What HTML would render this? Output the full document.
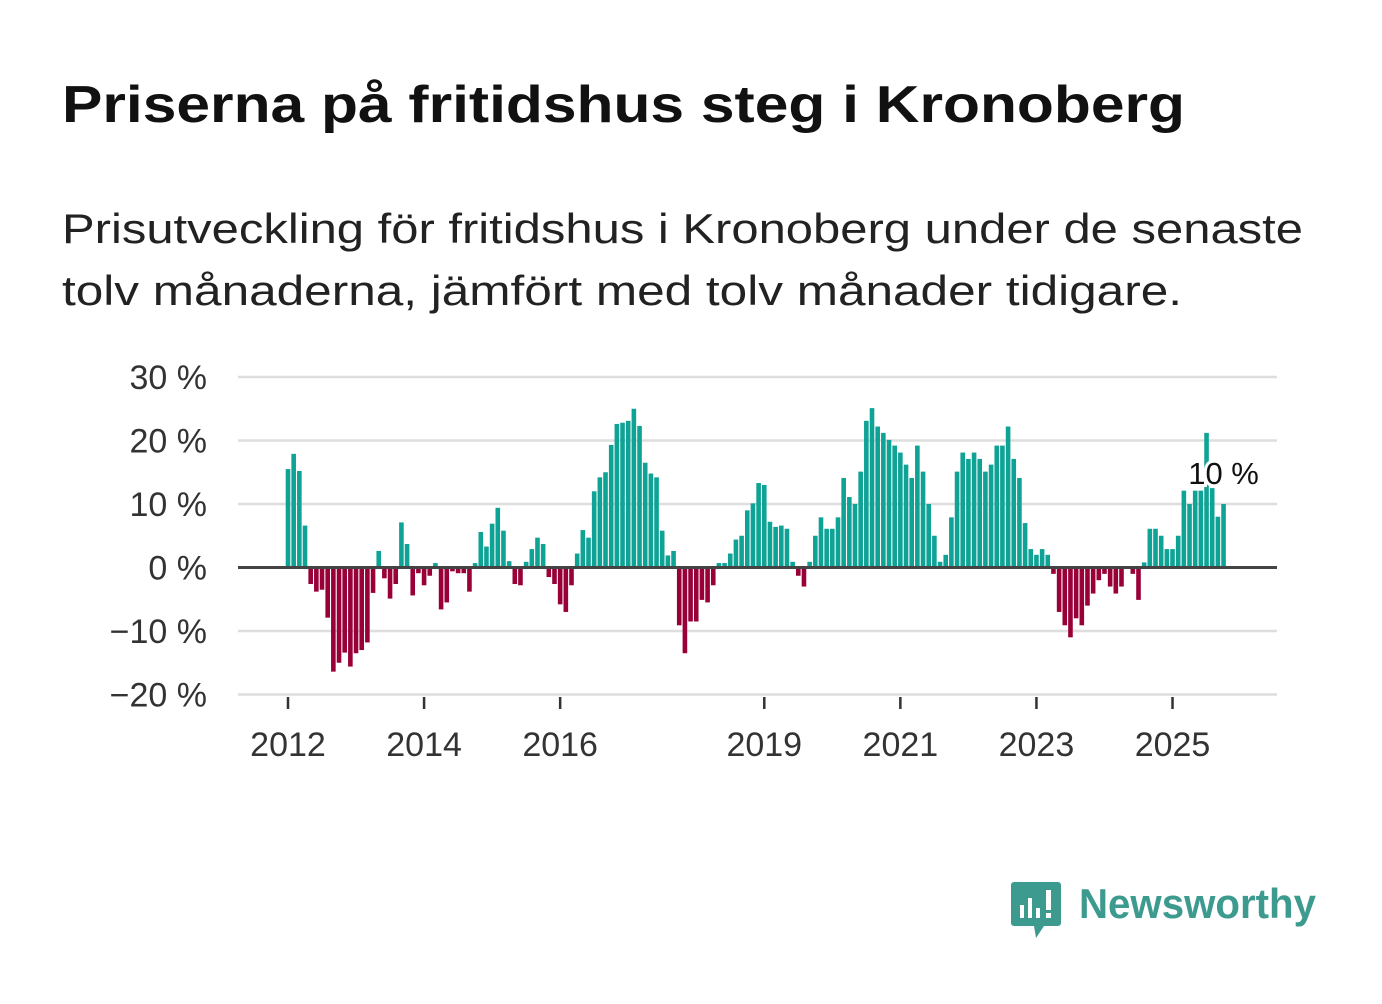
<!DOCTYPE html>
<html><head><meta charset="utf-8"><style>
html,body{margin:0;padding:0;background:#fff;}
body{width:1382px;height:999px;overflow:hidden;font-family:"Liberation Sans","DejaVu Sans",sans-serif;}
</style></head><body>
<svg id="chart" width="1382" height="999" viewBox="0 0 1382 999" xmlns="http://www.w3.org/2000/svg" font-family="Liberation Sans, DejaVu Sans, sans-serif">
<text x="62" y="122" font-size="52" font-weight="bold" fill="#111" textLength="1123" lengthAdjust="spacingAndGlyphs">Priserna på fritidshus steg i Kronoberg</text>
<text x="62" y="243" font-size="42" fill="#222" textLength="1241" lengthAdjust="spacingAndGlyphs">Prisutveckling för fritidshus i Kronoberg under de senaste</text>
<text x="62" y="305" font-size="42" fill="#222" textLength="1120" lengthAdjust="spacingAndGlyphs">tolv månaderna, jämfört med tolv månader tidigare.</text>
<g id="grid"></g>
<g id="bars"></g>
<g id="axes"></g>
<g>
<path d="M1014 882 h44 a3 3 0 0 1 3 3 v38 a3 3 0 0 1 -3 3 h-14 l-8 12 l-2 -12 h-20 a3 3 0 0 1 -3 -3 v-38 a3 3 0 0 1 3 -3z" fill="#3d9a8f"/>
<rect x="1020" y="905" width="4" height="13" fill="#fff"/>
<rect x="1028" y="898" width="4" height="20" fill="#fff"/>
<rect x="1036" y="908" width="4" height="10" fill="#fff"/>
<rect x="1046" y="890" width="5" height="20" fill="#fff"/>
<rect x="1046" y="913" width="5" height="5" fill="#fff"/>
<text x="1079" y="918" font-size="42" font-weight="bold" fill="#3d9a8f" textLength="237" lengthAdjust="spacingAndGlyphs">Newsworthy</text>
</g>
</svg>
<script>
const values = [
15.5,17.9,15.2,6.6,-2.6,-3.8,-3.5,-7.9,-16.4,-15,-13.4,-15.6,
-13.5,-13,-11.8,-4,2.6,-1.7,-4.9,-2.6,7.1,3.7,-4.4,-0.9,
-2.8,-1.3,0.7,-6.6,-5.5,-0.6,-0.9,-0.9,-3.8,0.7,5.6,3.3,
6.9,9.4,5.8,1,-2.6,-2.8,0.9,2.9,4.7,3.7,-1.5,-2.6,
-5.8,-7,-2.8,2.2,5.9,4.7,12,14.2,15,19.3,22.6,22.8,
23.1,25,22.3,16.5,14.8,14.2,5.8,1.9,2.6,-9.1,-13.5,-8.5,
-8.5,-5.1,-5.5,-2.8,0.7,0.7,2.2,4.4,5,9,10.1,13.3,
13,7.2,6.4,6.6,6.1,0.9,-1.3,-3,0.9,5,7.9,6.1,
6.1,7.9,14.1,11.1,10,15.1,23.1,25.1,22.2,21.2,20.1,19.2,
18.1,16.2,14.1,19.2,15.1,10,5,0.9,2,7.9,15.1,18.1,
17.1,18.1,17.1,15.1,16.2,19.2,19.2,22.2,17.1,14.1,7,2.9,
2,2.9,2,-1,-7,-9.1,-11,-8,-9.1,-6,-4.1,-2,
-1,-3,-4.1,-3,0,-1,-5.1,0.8,6.1,6.1,5,2.9,
2.9,5,12.1,10,12.1,12.1,21.2,12.5,8,10
];
const yTicks = [30,20,10,0,-10,-20];
const yTickLabels = ["30 %","20 %","10 %","0 %","\u221210 %","\u221220 %"];
const xTickYears = [2012,2014,2016,2019,2021,2023,2025];
const startYear = 2012;
const lastLabel = "10 %";

const NS="http://www.w3.org/2000/svg";
const x0=288, monthW=5.67, left=238, right=1277;
const y = v => 567.5 - v*6.35;
const xm = i => x0 + i*monthW;
function mk(tag, attrs, parent){const e=document.createElementNS(NS,tag);for(const k in attrs)e.setAttribute(k,attrs[k]);parent.appendChild(e);return e;}
const grid=document.getElementById('grid'), bars=document.getElementById('bars'), axes=document.getElementById('axes');
yTicks.forEach((t,i)=>{
  if(t!==0){const l=mk('line',{x1:left,x2:right,y1:y(t),y2:y(t),stroke:'#dedede','stroke-width':2.5},grid);
  
  }
  const tx=mk('text',{x:207,y:y(t)+12,'text-anchor':'end','font-size':34,fill:'#333'},axes);
  tx.textContent=yTickLabels[i];
  
  
});
values.forEach((v,i)=>{
  const cx=xm(i);
  const top=Math.min(y(v),y(0)), h=Math.abs(y(v)-y(0));
  const r=mk('rect',{x:cx-2.3,y:top,width:4.6,height:Math.max(h,0.5),fill:v>=0?'#0fa396':'#990038'},bars);
  
  
});
const zl=mk('line',{x1:left,x2:right,y1:y(0),y2:y(0),stroke:'#444','stroke-width':3},axes);


xTickYears.forEach(yr=>{
  const cx=xm((yr-startYear)*12);
  const tk=mk('line',{x1:cx,x2:cx,y1:697,y2:709,stroke:'#333','stroke-width':2.5},axes);
  
  
  const tx=mk('text',{x:cx,y:756,'text-anchor':'middle','font-size':34,fill:'#333'},axes);
  tx.textContent=yr;
  
  
});
const lx=xm(values.length-1);
const lab=mk('text',{x:lx,y:484,'text-anchor':'middle','font-size':31,fill:'#111',stroke:'#fff','stroke-width':6,'paint-order':'stroke'},axes);
lab.textContent=lastLabel;


</script>
</body></html>
